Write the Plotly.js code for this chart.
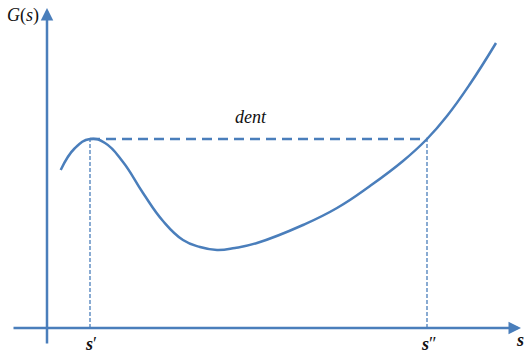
<!DOCTYPE html>
<html><head><meta charset="utf-8">
<script src="https://cdn.plot.ly/plotly-3.0.1.min.js"></script>
<style>html,body{margin:0;padding:0;background:#fff}#chart{width:524px;height:354px}</style>
</head><body><div id="chart"></div>
<script>
// Curve G(s) sample points (arbitrary units, s measured from the G axis, G from the s axis)
var sValues = [13.7, 28, 43, 58, 76, 96, 116, 136, 153, 170, 188, 210, 256, 290, 323, 356, 380, 400, 423, 449];
var gValues = [158, 180, 189, 185, 166, 135, 107, 88, 81, 78, 80, 85, 103, 120, 142, 167, 189, 212, 244, 285];
// the two equal-G points
var sPrime = 43, sDouble = 380, gLevel = 189;
var labelText = {y: '<i>G</i>(<i>s</i>)', x: '<b><i>s</i></b>', s1: '<b><i>s</i></b>′', s2: '<b><i>s</i></b>″', dent: '<i>dent</i>'};

var blue = '#4a7ebb';
var traces = [
  {x: sValues, y: gValues, mode: 'lines', line: {color: blue, width: 2.5, shape: 'spline', smoothing: 1.3}, hoverinfo: 'skip'},
  {x: [sPrime, sDouble], y: [gLevel, gLevel], mode: 'lines', line: {color: blue, width: 2.5, dash: '10px,6px'}, hoverinfo: 'skip'},
  {x: [sPrime, sPrime], y: [0, gLevel], mode: 'lines', line: {color: blue, width: 1.3, dash: '4px,2px'}, hoverinfo: 'skip'},
  {x: [sDouble, sDouble], y: [0, gLevel], mode: 'lines', line: {color: blue, width: 1.3, dash: '4px,2px'}, hoverinfo: 'skip'}
];
var fam = 'Liberation Serif';
function f(sz) { return {family: fam, size: sz, color: '#111'}; }
var layout = {
  width: 524, height: 354, margin: {l: 0, r: 0, t: 0, b: 0},
  paper_bgcolor: '#fff', plot_bgcolor: '#fff', showlegend: false,
  font: {family: fam},
  xaxis: {range: [-47, 477], visible: false, fixedrange: true},
  yaxis: {range: [-26, 328], visible: false, fixedrange: true},
  annotations: [
    {x: 474, y: 0, ax: -35, ay: 0, xref: 'x', yref: 'y', axref: 'x', ayref: 'y', text: '', showarrow: true, arrowhead: 2, arrowsize: 1, arrowwidth: 2.5, arrowcolor: blue},
    {x: 0, y: 320, ax: 0, ay: -17, xref: 'x', yref: 'y', axref: 'x', ayref: 'y', text: '', showarrow: true, arrowhead: 2, arrowsize: 1, arrowwidth: 2.5, arrowcolor: blue},
    {x: -24, y: 313, xref: 'x', yref: 'y', text: labelText.y, showarrow: false, font: f(18)},
    {x: 473, y: -12, xref: 'x', yref: 'y', text: labelText.x, showarrow: false, font: f(18)},
    {x: sPrime + 1, y: -16, xref: 'x', yref: 'y', text: labelText.s1, showarrow: false, font: f(18)},
    {x: sDouble + 2, y: -16, xref: 'x', yref: 'y', text: labelText.s2, showarrow: false, font: f(18)},
    {x: 204, y: 211, xref: 'x', yref: 'y', text: labelText.dent, showarrow: false, font: f(18)}
  ]
};
Plotly.newPlot('chart', traces, layout, {staticPlot: true, displayModeBar: false});
</script></body></html>
